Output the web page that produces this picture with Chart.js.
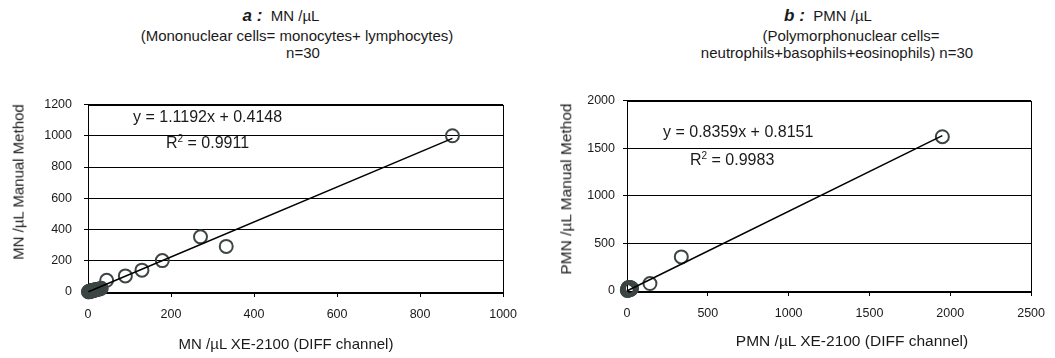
<!DOCTYPE html>
<html>
<head>
<meta charset="utf-8">
<script src="https://cdn.jsdelivr.net/npm/chart.js@4"></script>
<style>
body { margin: 0; background: #fff; font-family: "Liberation Sans", Arial, sans-serif; color: #1a1a1a; }
#wrap { position: relative; width: 1055px; height: 358px; overflow: hidden; }
canvas { position: absolute; top: 85px; }
#chartA { left: 0; }
#chartB { left: 527px; }
.t { position: absolute; white-space: nowrap; line-height: 1; transform: translate(-50%, -50%); font-size: 15px; }
.eq { position: absolute; white-space: nowrap; line-height: 1; transform: translateY(-50%); font-size: 16px; }
.vt { transform: translate(-50%, -50%) rotate(-90deg); }
.big { font-weight: bold; font-style: italic; font-size: 17px; }
sup { font-size: 10px; vertical-align: 6px; line-height: 0; }
</style>
</head>
<body>
<div id="wrap">
  <div class="t" style="left:281px;top:15px"><span class="big">a :</span>&nbsp; MN /&micro;L</div>
  <div class="t" style="left:297px;top:35px">(Mononuclear cells= monocytes+ lymphocytes)</div>
  <div class="t" style="left:303px;top:52px">n=30</div>

  <div class="t" style="left:828px;top:15px"><span class="big">b :</span>&nbsp; PMN /&micro;L</div>
  <div class="t" style="left:851px;top:35px">(Polymorphonuclear cells=</div>
  <div class="t" style="left:837px;top:52px">neutrophils+basophils+eosinophils) n=30</div>

  <canvas id="chartA" width="527" height="273"></canvas>
  <canvas id="chartB" width="528" height="273"></canvas>

  <div class="eq" style="left:133px;top:117px">y = 1.1192x + 0.4148</div>
  <div class="eq" style="left:166px;top:143px">R<sup>2</sup> = 0.9911</div>
  <div class="eq" style="left:663px;top:132px">y = 0.8359x + 0.8151</div>
  <div class="eq" style="left:690px;top:160px">R<sup>2</sup> = 0.9983</div>

  <div class="t vt" style="left:18px;top:182px">MN /&micro;L Manual Method</div>
  <div class="t" style="left:286px;top:343px">MN /&micro;L XE-2100 (DIFF channel)</div>
  <div class="t vt" style="left:566px;top:189px;font-size:15.5px">PMN /&micro;L Manual Method</div>
  <div class="t" style="left:852px;top:341px;font-size:15.5px">PMN /&micro;L XE-2100 (DIFF channel)</div>
</div>
<script>
// axis ticks
const xTicksA = [0, 200, 400, 600, 800, 1000];
const yTicksA = [0, 200, 400, 600, 800, 1000, 1200];
const xTicksB = [0, 500, 1000, 1500, 2000, 2500];
const yTicksB = [0, 500, 1000, 1500, 2000];

// a: MN /uL  (XE-2100 vs manual)
const mnXE =     [1, 2, 3, 4, 4, 5, 6, 7, 7, 8, 9, 10, 11, 12, 13, 14, 15, 17, 19, 21, 24, 28, 32,
                  45, 90, 130, 179, 271, 333, 878];
const mnManual = [2, 1, 4, 3, 5, 4, 6, 5, 7, 6, 8, 9, 10, 9, 11, 12, 12, 14, 15, 16, 18, 20, 24,
                  75, 103, 140, 201, 353, 292, 1000];

// b: PMN /uL
const pmnXE =     [2, 3, 4, 5, 6, 7, 8, 9, 10, 10, 11, 12, 12, 13, 14, 15, 16, 17, 18, 19, 20, 21, 22, 23, 24, 26, 28,
                   142, 336, 1951];
const pmnManual = [5, 12, 20, 8, 30, 15, 25, 35, 10, 22, 18, 28, 38, 14, 24, 32, 20, 26, 36, 16, 30, 22, 34, 28, 18, 25, 30,
                   78, 358, 1620];

// trendlines as printed on the chart: [slope, intercept]
const fitA = [1.1192, 0.4148];
const fitB = [0.8359, 0.8151];

const ink = '#000';
const markerColor = '#3d4545';
const tickFont = { family: 'Liberation Sans, Arial, sans-serif', size: 12.5 };

// box around the plot area
const frame = {
  id: 'frame',
  beforeDatasetsDraw(chart) {
    const { ctx, chartArea: a } = chart;
    ctx.save();
    ctx.strokeStyle = ink;
    ctx.lineWidth = 1;
    ctx.strokeRect(Math.round(a.left) + 0.5, Math.round(a.top) + 0.5,
      Math.round(a.right - a.left), Math.round(a.bottom - a.top));
    ctx.restore();
  }
};

function makeChart(id, xs, ys, fit, xTicks, yTicks, box) {
  const points = xs.map((x, i) => ({ x, y: ys[i] }));
  const minX = Math.min(...xs);
  const maxX = Math.max(...xs);
  const trend = [minX, maxX].map(x => ({ x, y: fit[0] * x + fit[1] }));

  return new Chart(document.getElementById(id), {
    type: 'scatter',
    data: {
      datasets: [
        {
          data: trend,
          showLine: true,
          borderColor: ink,
          borderWidth: 1.5,
          pointRadius: 0,
          clip: false
        },
        {
          data: points,
          pointStyle: 'circle',
          pointRadius: 6.5,
          borderWidth: 2,
          borderColor: markerColor,
          backgroundColor: 'rgba(0,0,0,0)',
          clip: false
        }
      ]
    },
    options: {
      responsive: false,
      animation: false,
      layout: { padding: { left: 0, top: box.top, right: box.right, bottom: 0 } },
      plugins: { legend: { display: false }, tooltip: { enabled: false } },
      scales: {
        x: {
          type: 'linear',
          min: xTicks[0],
          max: xTicks[xTicks.length - 1],
          afterBuildTicks: s => { s.ticks = xTicks.map(v => ({ value: v })); },
          afterFit: s => { s.height = box.xHeight; },
          grid: { drawOnChartArea: false, drawTicks: true, tickLength: 5, color: ink },
          border: { display: true, color: ink, width: 1 },
          ticks: { color: '#1a1a1a', font: tickFont, padding: 10, maxRotation: 0, callback: v => String(v) }
        },
        y: {
          type: 'linear',
          min: yTicks[0],
          max: yTicks[yTicks.length - 1],
          afterBuildTicks: s => { s.ticks = yTicks.map(v => ({ value: v })); },
          afterFit: s => { s.width = box.yWidth; },
          grid: { color: ink, lineWidth: 1, drawTicks: true, tickLength: 4 },
          border: { display: true, color: ink, width: 1 },
          ticks: { color: '#1a1a1a', font: tickFont, padding: box.yPad, callback: v => String(v) }
        }
      }
    },
    plugins: [frame]
  });
}

makeChart('chartA', mnXE, mnManual, fitA, xTicksA, yTicksA,
  { top: 9, right: 19, xHeight: 66, yWidth: 88, yPad: 12 });
makeChart('chartB', pmnXE, pmnManual, fitB, xTicksB, yTicksB,
  { top: 10, right: 12, xHeight: 67, yWidth: 100, yPad: 8 });
</script>
</body>
</html>
